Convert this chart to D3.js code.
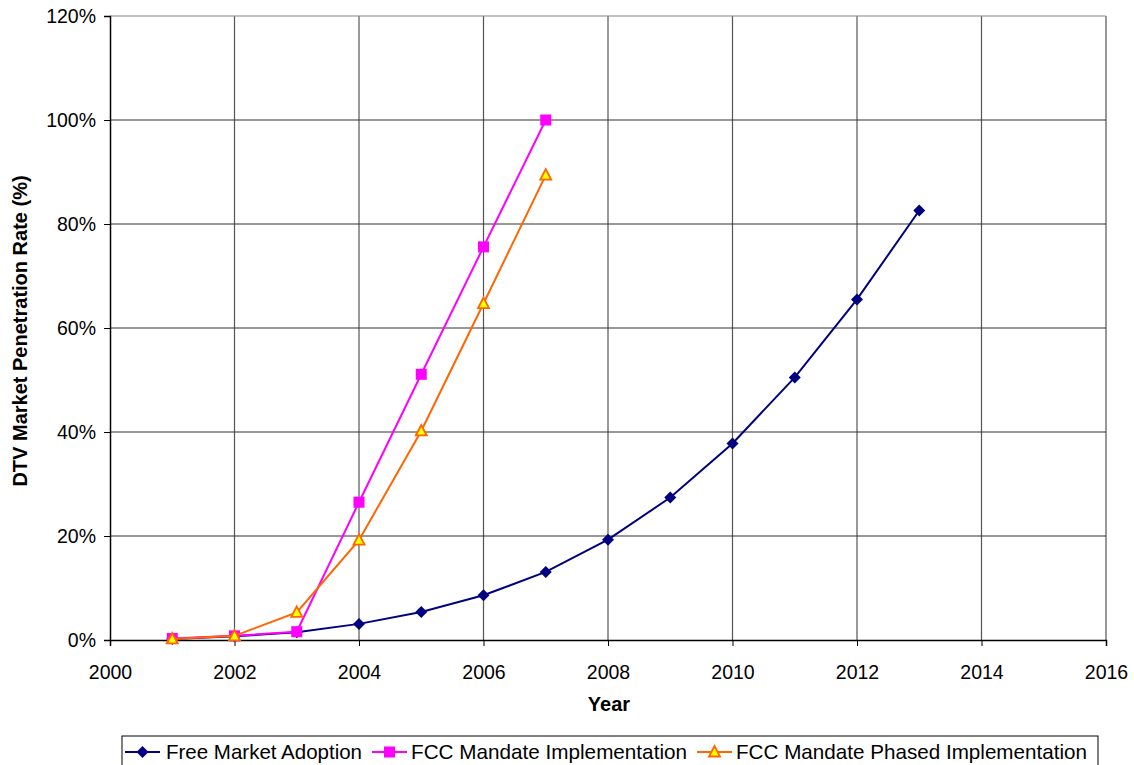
<!DOCTYPE html>
<html><head><meta charset="utf-8">
<script src="https://cdn.jsdelivr.net/npm/d3@7"></script>
<style>body{margin:0;background:#fff;} text{font-family:"Liberation Sans",Arial,sans-serif;}</style>
</head><body>
<svg id="c" width="1134" height="765"></svg>
<script>
const yearsFree = [2001,2002,2003,2004,2005,2006,2007,2008,2009,2010,2011,2012,2013];
const freeMarket = [0.2,0.7,1.5,3.1,5.4,8.6,13.1,19.3,27.4,37.8,50.5,65.5,82.6];
const yearsMandate = [2001,2002,2003,2004,2005,2006,2007];
const fccMandate = [0.3,0.8,1.6,26.5,51.1,75.6,100];
const fccPhased = [0.2,0.8,5.3,19.2,40.2,64.7,89.4];
const xTicks = [2000,2002,2004,2006,2008,2010,2012,2014,2016];
const yTicks = [0,20,40,60,80,100,120];
const seriesNames = ["Free Market Adoption","FCC Mandate Implementation","FCC Mandate Phased Implementation"];

const svg = d3.select("#c");
const L=110,R=1106,T=16,B=640;
const x = d3.scaleLinear().domain([2000,2016]).range([L,R]);
const y = d3.scaleLinear().domain([0,120]).range([B,T]);

// grid
svg.append("g").selectAll("line").data(xTicks.slice(1)).join("line")
  .attr("x1",d=>x(d)).attr("x2",d=>x(d)).attr("y1",T).attr("y2",B)
  .attr("stroke","#555").attr("stroke-width",1.2);
svg.append("g").selectAll("line").data(yTicks.slice(1)).join("line")
  .attr("x1",L).attr("x2",R).attr("y1",d=>y(d)).attr("y2",d=>y(d))
  .attr("stroke",d=>d===120?"#888":"#333").attr("stroke-width",1.2);

// axes
const xa = svg.append("g").attr("transform",`translate(0,${B})`)
  .call(d3.axisBottom(x).tickValues(xTicks).tickFormat(d3.format("d")).tickSize(6).tickPadding(19));
const ya = svg.append("g").attr("transform",`translate(${L},0)`)
  .call(d3.axisLeft(y).tickValues(yTicks).tickFormat(d=>d+"%").tickSize(6).tickPadding(8));
[xa,ya].forEach(a=>{a.selectAll("text").attr("font-size",19.5).attr("fill","#000").attr("font-family","Liberation Sans, Arial, sans-serif");
  a.select(".domain").attr("stroke","#000").attr("stroke-width",1.5);
  a.selectAll(".tick line").attr("stroke","#000");});

svg.append("text").attr("x",609).attr("y",711).attr("text-anchor","middle")
  .attr("font-size",20).attr("font-weight","bold").text("Year");
svg.append("text").attr("transform",`translate(27,331) rotate(-90)`).attr("text-anchor","middle")
  .attr("font-size",20).attr("font-weight","bold").text("DTV Market Penetration Rate (%)");

const line = d3.line().x(d=>x(d[0])).y(d=>y(d[1]));
const sFree = yearsFree.map((d,i)=>[d,freeMarket[i]]);
const sMand = yearsMandate.map((d,i)=>[d,fccMandate[i]]);
const sPhas = yearsMandate.map((d,i)=>[d,fccPhased[i]]);

function diamond(g,cx,cy){g.append("path").attr("d",`M${cx},${cy-6}L${cx+6},${cy}L${cx},${cy+6}L${cx-6},${cy}Z`).attr("fill","#000080");}
function square(g,cx,cy){g.append("rect").attr("x",cx-5.5).attr("y",cy-5.5).attr("width",11).attr("height",11).attr("fill","#ff00ff");}
function tri(g,cx,cy){g.append("path").attr("d",`M${cx},${cy-6}L${cx+5.5},${cy+4.5}L${cx-5.5},${cy+4.5}Z`).attr("fill","#ffff00").attr("stroke","#ff6600").attr("stroke-width",1.8);}

const gl = svg.append("g");
gl.append("path").attr("d",line(sFree)).attr("fill","none").attr("stroke","#000080").attr("stroke-width",2);
sFree.forEach(d=>diamond(gl,x(d[0]),y(d[1])));
gl.append("path").attr("d",line(sMand)).attr("fill","none").attr("stroke","#ff00ff").attr("stroke-width",2);
sMand.forEach(d=>square(gl,x(d[0]),y(d[1])));
gl.append("path").attr("d",line(sPhas)).attr("fill","none").attr("stroke","#ff6600").attr("stroke-width",2);
sPhas.forEach(d=>tri(gl,x(d[0]),y(d[1])));

// legend
const lg = svg.append("g");
lg.append("rect").attr("x",122).attr("y",736).attr("width",976).attr("height",40).attr("fill","#fff").attr("stroke","#000").attr("stroke-width",1);
const items=[{x:125,c:"#000080",m:diamond,tx:166,w:196},{x:372,c:"#ff00ff",m:square,tx:411,w:276},{x:697,c:"#ff6600",m:tri,tx:736,w:351}];
items.forEach((it,i)=>{
  lg.append("line").attr("x1",it.x).attr("x2",it.x+35).attr("y1",752).attr("y2",752).attr("stroke",it.c).attr("stroke-width",2);
  it.m(lg,it.x+17.5,752);
  lg.append("text").attr("x",it.tx).attr("y",759).attr("font-size",21).attr("textLength",it.w).attr("lengthAdjust","spacingAndGlyphs").text(seriesNames[i]);
});
</script>
</body></html>
